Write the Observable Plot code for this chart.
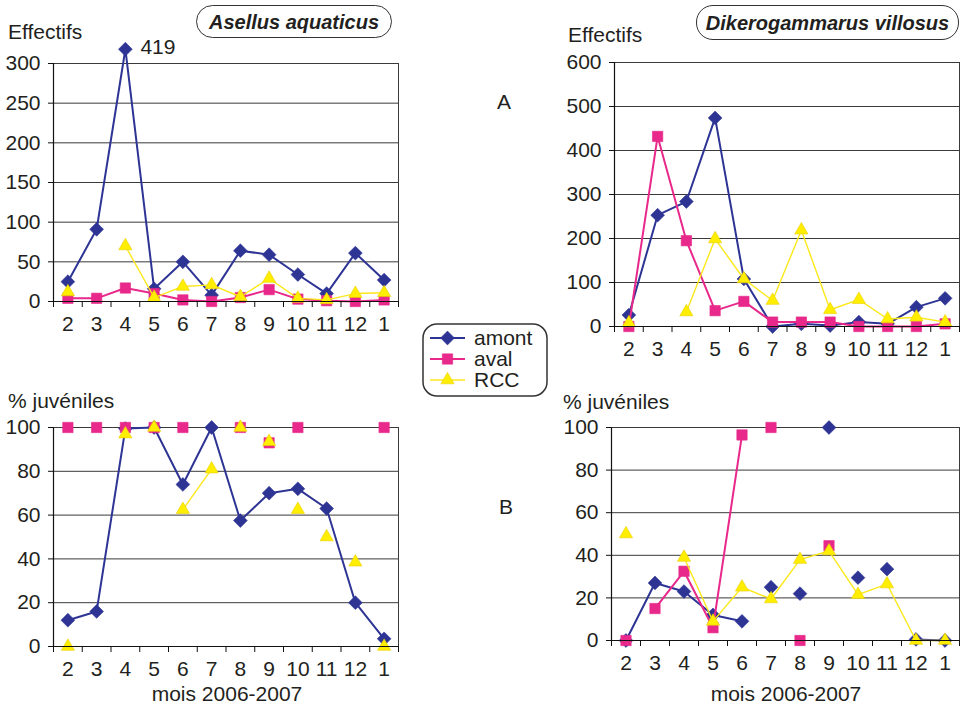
<!DOCTYPE html>
<html><head><meta charset="utf-8">
<script src="https://cdn.jsdelivr.net/npm/d3@7"></script>
<script src="https://cdn.jsdelivr.net/npm/@observablehq/plot@0.6"></script>
<style>
body{margin:0;background:#fff;}
#root{position:relative;width:961px;height:707px;font-family:"Liberation Sans",Arial,Helvetica,sans-serif;color:#231f20;overflow:hidden;}
.abs{position:absolute;line-height:1;white-space:nowrap;font-size:21px;}
.ctr{transform:translateX(-50%);}
.title{position:absolute;border:1.5px solid #333;border-radius:17px;font-weight:bold;font-style:italic;font-size:20px;display:flex;align-items:center;justify-content:center;box-sizing:border-box;line-height:1;}
#root svg{position:absolute;}
</style></head><body><div id="root"></div>
<script>
// ---- data ----
const months = ["2","3","4","5","6","7","8","9","10","11","12","1"];
const seriesNames = ["amont","aval","RCC"];

// A : Effectifs
const aselAmont = [25, 91, 419, 16, 50, 8, 64, 59, 34, 10, 61, 27];
const aselAval  = [4, 4, 17, 10, 2, 0, 5, 15, 3, 1, 0, 2];
const aselRCC   = [12, null, 70, 5, 19, 21, 6, 29, 4, 2, 10, 11];
const aselShownMax = 318;   // off-scale value drawn just above the frame, labelled

const dikAmont = [26, 253, 284, 474, 108, 0, 6, 2, 10, 6, 44, 64];
const dikAval  = [0, 432, 195, 36, 57, 10, 10, 10, 0, 0, 0, 6];
const dikRCC   = [8, null, 33, 199, 108, 59, 219, 38, 61, 17, 21, 10];

// B : % juveniles
const jAselAmont = [12, 16, 99.5, 100, 74, 100, 57.5, 70, 72, 63, 20, 3.5];
const jAselAval  = [100, 100, 100, 100, 100, null, 100, 93, 100, null, null, 100];
const jAselRCC   = [0, null, 97, 100, 62.5, 81, 100, 93.5, 62.5, 50, 38.5, 0];
// which points are joined by a line (same id = joined)
const jAselAvalSeg = [1,2,3,4,5,6,7,8,9,10,11,12];
const jAselRCCSeg  = [1,2,3,4,5,5,6,7,8,9,10,11];

const jDikAmont = [0, 27, 23, 12, 9, 25, 22, 100, 29.5, 33.5, 0.5, 0];
const jDikAval  = [0, 15, 32.5, 6, 96.5, 100, 0, 44.5, null, null, null, null];
const jDikRCC   = [50, null, 39, 9, 25, 19.5, 38, 42, 21.5, 26.5, 0, 0];
const jDikAmontSeg = [1,1,1,1,1,2,3,4,5,6,7,7];
const jDikAvalSeg  = [1,2,2,2,2,3,4,5,6,6,6,6];

const ticksA1 = [0, 50, 100, 150, 200, 250, 300];
const ticksA2 = [0, 100, 200, 300, 400, 500, 600];
const ticksB  = [0, 20, 40, 60, 80, 100];

// ---- styles ----
const sty = {
  amont: {stroke: "#2d3494", fill: "#2d3494", symbol: "diamond2", r: 6.2, width: 2},
  aval:  {stroke: "#e8288a", fill: "#e8288a", symbol: "square2", r: 6.6, width: 2},
  RCC:   {stroke: "#fbe81a", fill: "#ffee00", symbol: "triangle2", r: 6.3, width: 1.4, edge: "#e9cf00"}
};
const FONT = '"Liberation Sans", Arial, Helvetica, sans-serif';
const FS = 21;

function panel(cfg) {
  const {x0, top, width, height, left, right, yTop, yZero, yDomain, yTicks, series, cap} = cfg;
  const idx = d3.range(months.length);
  const bounds = d3.range(months.length + 1).map(i => i - 0.5);
  const marks = [
    Plot.ruleY(yTicks.filter(t => t > yDomain[0]), {stroke: "#3a3a3a", strokeWidth: 1}),
    Plot.ruleX([months.length - 0.5], {stroke: "#3a3a3a", strokeWidth: 1})
  ];
  for (const s of series) {
    const st = sty[s.name];
    const rows = s.values.map((v, i) => ({
      i, raw: v,
      v: v == null ? null : (cap != null ? Math.min(v, cap) : v),
      s: s.seg ? s.seg[i] : 1
    }));
    marks.push(Plot.line(rows, {x: "i", y: "v", z: "s", stroke: st.stroke, strokeWidth: st.width}));
    marks.push(Plot.dot(rows.filter(d => d.v != null), {
      x: "i", y: "v", symbol: st.symbol, r: st.r, fill: st.fill,
      stroke: st.edge || st.fill, strokeWidth: 0.6
    }));
    if (cap != null) {
      marks.push(Plot.text(rows.filter(d => d.raw != null && d.raw > yDomain[1]), {
        x: "i", y: "v", text: d => String(d.raw), dx: 15, dy: -2, textAnchor: "start", fontSize: FS, fill: "#231f20"
      }));
    }
  }
  marks.push(
    Plot.ruleX([-0.5], {stroke: "#111", strokeWidth: 1.2}),
    Plot.ruleY([yDomain[0]], {stroke: "#111", strokeWidth: 1.2}),
    Plot.axisY(yTicks, {tickSize: 5, tickPadding: 8, label: null, stroke: "#111", fontSize: FS, fill: "#231f20"}),
    Plot.axisX(idx, {tickSize: 0, tickPadding: 15, tickFormat: i => months[i], label: null, fontSize: FS, fill: "#231f20"}),
    Plot.axisX(bounds, {tickSize: 6, tickFormat: () => "", label: null, stroke: "#111"})
  );
  const svg = Plot.plot({
    width, height,
    marginLeft: left - x0,
    marginRight: x0 + width - right,
    marginTop: yTop - top,
    marginBottom: top + height - yZero,
    x: {type: "linear", domain: [-0.5, months.length - 0.5], label: null},
    y: {type: "linear", domain: yDomain, label: null},
    style: {fontFamily: FONT, fontSize: FS + "px", background: "transparent", overflow: "visible", color: "#231f20"},
    marks
  });
  svg.style.left = x0 + "px";
  svg.style.top = top + "px";
  return svg;
}

const root = document.getElementById("root");

root.appendChild(panel({
  x0: 0, top: 30, width: 410, height: 330, left: 53, right: 398, yTop: 63, yZero: 301,
  yDomain: [0, 300], yTicks: ticksA1, cap: aselShownMax,
  series: [{name: "amont", values: aselAmont}, {name: "aval", values: aselAval}, {name: "RCC", values: aselRCC}]
}));
root.appendChild(panel({
  x0: 555, top: 30, width: 406, height: 340, left: 614, right: 959, yTop: 62, yZero: 326,
  yDomain: [0, 600], yTicks: ticksA2,
  series: [{name: "amont", values: dikAmont}, {name: "aval", values: dikAval}, {name: "RCC", values: dikRCC}]
}));
root.appendChild(panel({
  x0: 0, top: 390, width: 410, height: 290, left: 53, right: 398, yTop: 427, yZero: 646,
  yDomain: [0, 100], yTicks: ticksB,
  series: [{name: "amont", values: jAselAmont}, {name: "aval", values: jAselAval, seg: jAselAvalSeg}, {name: "RCC", values: jAselRCC, seg: jAselRCCSeg}]
}));
root.appendChild(panel({
  x0: 555, top: 390, width: 406, height: 290, left: 611, right: 959, yTop: 427, yZero: 640,
  yDomain: [0, 100], yTicks: ticksB,
  series: [{name: "amont", values: jDikAmont, seg: jDikAmontSeg}, {name: "aval", values: jDikAval, seg: jDikAvalSeg}, {name: "RCC", values: jDikRCC}]
}));

// ---- text ----
function addText(txt, x, y, center) {
  const d = document.createElement("div");
  d.className = "abs" + (center ? " ctr" : "");
  d.style.left = x + "px"; d.style.top = y + "px";
  d.textContent = txt;
  root.appendChild(d);
}
addText("Effectifs", 8, 21);
addText("Effectifs", 568, 24);
addText("% juvéniles", 8, 390);
addText("% juvéniles", 563, 391);
addText("mois 2006-2007", 227, 683, true);
addText("mois 2006-2007", 786, 683, true);
addText("A", 504, 91, true);
addText("B", 506, 496, true);

function addTitle(txt, x, y, w, h) {
  const d = document.createElement("div");
  d.className = "title";
  Object.assign(d.style, {left: x + "px", top: y + "px", width: w + "px", height: h + "px"});
  d.textContent = txt;
  root.appendChild(d);
}
addTitle("Asellus aquaticus", 196, 5, 196, 33);
addTitle("Dikerogammarus villosus", 696, 5, 263, 35);

// ---- legend ----
const leg = d3.select(root).append("svg")
  .attr("width", 132).attr("height", 80)
  .style("left", "420px").style("top", "320px");
leg.append("rect").attr("x", 3).attr("y", 4).attr("width", 124).attr("height", 72)
  .attr("rx", 14).attr("fill", "#fff").attr("stroke", "#333").attr("stroke-width", 1.5);
const symMap = {diamond2: d3.symbolDiamond2, square2: d3.symbolSquare2, triangle2: d3.symbolTriangle2};
seriesNames.forEach((n, k) => {
  const st = sty[n];
  const cy = 18 + k * 21;
  leg.append("line").attr("x1", 10).attr("x2", 45).attr("y1", cy).attr("y2", cy)
    .attr("stroke", st.stroke).attr("stroke-width", st.width);
  leg.append("path").attr("transform", `translate(27.5,${cy})`)
    .attr("d", d3.symbol(symMap[st.symbol], Math.PI * st.r * st.r)())
    .attr("fill", st.fill).attr("stroke", st.edge || st.fill).attr("stroke-width", 0.6);
  leg.append("text").attr("x", 54).attr("y", cy + 7).text(n)
    .attr("font-family", FONT).attr("font-size", FS).attr("fill", "#231f20");
});
</script>
</body></html>
